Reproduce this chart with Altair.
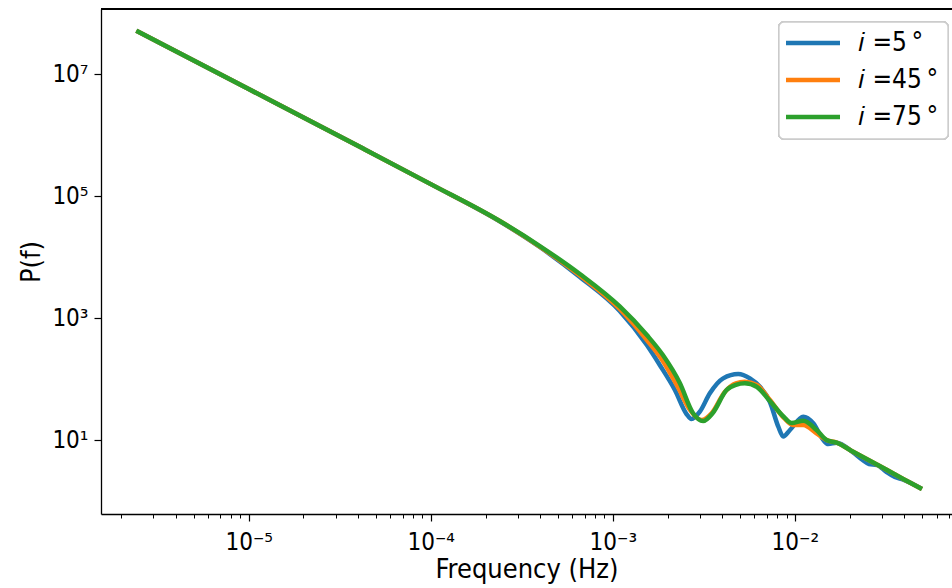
import altair as alt
import pandas as pd

# Values, stored as base-10 exponents (log10 f, log10 P)
log_freq_5 = [-5.617, -5.000, -4.374, -4.000, -3.621, -3.401, -3.181, -2.962, -2.813, -2.742,
              -2.659, -2.595, -2.568, -2.522, -2.467, -2.394, -2.311, -2.247, -2.192, -2.137,
              -2.091, -2.064, -2.027, -1.954, -1.899, -1.844, -1.817, -1.771, -1.680, -1.632,
              -1.593, -1.549, -1.496, -1.451, -1.405, -1.302]
log_power_5 = [7.710, 6.754, 5.782, 5.195, 4.585, 4.164, 3.672, 3.115, 2.557, 2.230,
               1.820, 1.426, 1.344, 1.464, 1.766, 2.011, 2.082, 2.011, 1.874, 1.623,
               1.218, 1.057, 1.164, 1.382, 1.274, 1.000, 0.934, 0.956, 0.795, 0.680,
               0.607, 0.590, 0.475, 0.393, 0.352, 0.197]

log_freq_45 = [-5.617, -5.000, -4.374, -4.000, -3.621, -3.401, -3.181, -2.962, -2.813, -2.725,
               -2.643, -2.576, -2.513, -2.456, -2.385, -2.324, -2.275, -2.209, -2.137, -2.060,
               -2.011, -1.954, -1.881, -1.826, -1.771, -1.680, -1.588, -1.496, -1.405, -1.302]
log_power_45 = [7.710, 6.754, 5.782, 5.195, 4.590, 4.172, 3.697, 3.148, 2.639, 2.295,
                1.869, 1.492, 1.328, 1.443, 1.787, 1.930, 1.956, 1.902, 1.656, 1.361,
                1.246, 1.246, 1.110, 1.000, 0.956, 0.808, 0.659, 0.511, 0.362, 0.197]

log_freq_75 = [-5.617, -5.000, -4.374, -4.000, -3.621, -3.401, -3.181, -2.962, -2.813, -2.725,
               -2.632, -2.560, -2.504, -2.451, -2.375, -2.324, -2.275, -2.210, -2.137, -2.060,
               -2.018, -1.954, -1.881, -1.826, -1.771, -1.680, -1.588, -1.496, -1.405, -1.302]
log_power_75 = [7.710, 6.754, 5.782, 5.195, 4.590, 4.180, 3.721, 3.189, 2.721, 2.393,
                1.934, 1.443, 1.311, 1.443, 1.820, 1.905, 1.930, 1.874, 1.639, 1.377,
                1.279, 1.316, 1.164, 1.000, 0.956, 0.808, 0.659, 0.511, 0.362, 0.197]

series_labels = ["\U0001D456 =5\u2009°", "\U0001D456 =45\u2009°", "\U0001D456 =75\u2009°"]
series_colors = ["#1f77b4", "#ff7f0e", "#2ca02c"]

x_major = [1e-5, 1e-4, 1e-3, 1e-2]
x_minor = [m * 10.0 ** e for e in range(-6, -1) for m in range(2, 10) if m * 10.0 ** e < 0.0729]
y_major = [1e1, 1e3, 1e5, 1e7]

x_domain = [10 ** -5.811, 10 ** -1.137]
y_domain = [10 ** -0.213, 10 ** 8.066]

W, H = 851, 505
FONT = "DejaVu Sans Condensed"

def frame(lf, lp, label):
    return pd.DataFrame({"f": [10 ** v for v in lf], "P": [10 ** v for v in lp], "series": label})

dfs = [frame(log_freq_5, log_power_5, series_labels[0]),
       frame(log_freq_45, log_power_45, series_labels[1]),
       frame(log_freq_75, log_power_75, series_labels[2])]

xscale = alt.Scale(type="log", domain=x_domain, nice=False)
yscale = alt.Scale(type="log", domain=y_domain, nice=False)
color = alt.Color("series:N",
                  scale=alt.Scale(domain=series_labels, range=series_colors),
                  legend=alt.Legend(title=None, orient="none", legendX=699, legendY=21,
                                    labelFontSize=26, labelFont=FONT, labelColor="black",
                                    symbolType="M-3,0H3", symbolStrokeWidth=4.5, symbolSize=324,
                                    symbolFillColor="transparent",
                                    rowPadding=11, padding=0, labelOffset=32))

x_axis = alt.Axis(values=x_major, title="Frequency (Hz)", orient="bottom", grid=False,
                  labelExpr="datum.value < 5e-5 ? '10⁻⁵' : datum.value < 5e-4 ? '10⁻⁴' : datum.value < 5e-3 ? '10⁻³' : '10⁻²'",
                  tickSize=7, tickWidth=1.2, tickColor="black", domainColor="black", domainWidth=1.3,
                  labelFontSize=24, labelFont=FONT, labelColor="black", labelPadding=9,
                  titleFontSize=27, titleFont=FONT, titleFontWeight="normal", titleColor="black",
                  titlePadding=2, labelFlush=False)
y_axis = alt.Axis(values=y_major, title="P(f)", grid=False,
                  labelExpr="datum.value < 100 ? '10¹' : datum.value < 1e4 ? '10³' : datum.value < 1e6 ? '10⁵' : '10⁷'",
                  tickSize=7, tickWidth=1.2, tickColor="black", domainColor="black", domainWidth=1.3,
                  labelFontSize=24, labelFont=FONT, labelColor="black", labelPadding=6,
                  titleFontSize=27, titleFont=FONT, titleFontWeight="normal", titleColor="black",
                  titlePadding=6, labelFlush=False)

layers = []
for i, df in enumerate(dfs):
    layers.append(
        alt.Chart(df).mark_line(strokeWidth=4.5, interpolate="monotone", clip=True).encode(
            x=alt.X("f:Q", scale=xscale, axis=x_axis if i == 0 else None),
            y=alt.Y("P:Q", scale=yscale, axis=y_axis),
            color=color,
        )
    )

minor = alt.Chart(dfs[2]).mark_line(opacity=0).encode(
    x=alt.X("f:Q", scale=xscale,
            axis=alt.Axis(values=x_minor, labels=False, title=None, orient="bottom", grid=False,
                          domain=False, tickSize=4, tickWidth=1, tickColor="black")),
    y=alt.Y("P:Q", scale=yscale, axis=y_axis),
)

top_line = alt.Chart(dfs[0]).mark_rule(color="black", strokeWidth=1.3).encode(
    x=alt.value(0), x2=alt.value(W), y=alt.value(0)
)

legend_box = alt.Chart(dfs[0]).mark_rect(
    fill="white", stroke="#cccccc", strokeWidth=1.3, cornerRadius=5
).encode(x=alt.value(678), x2=alt.value(847), y=alt.value(13), y2=alt.value(130))

chart = alt.layer(*layers, minor, top_line, legend_box).resolve_axis(x="independent").properties(
    width=W, height=H,
    autosize=alt.AutoSizeParams(type="none"),
    padding={"left": 101, "top": 9, "right": 0, "bottom": 74},
    background="white",
).configure_view(stroke=None)

chart.save("out.html", embed_options={"renderer": "svg", "actions": False})
